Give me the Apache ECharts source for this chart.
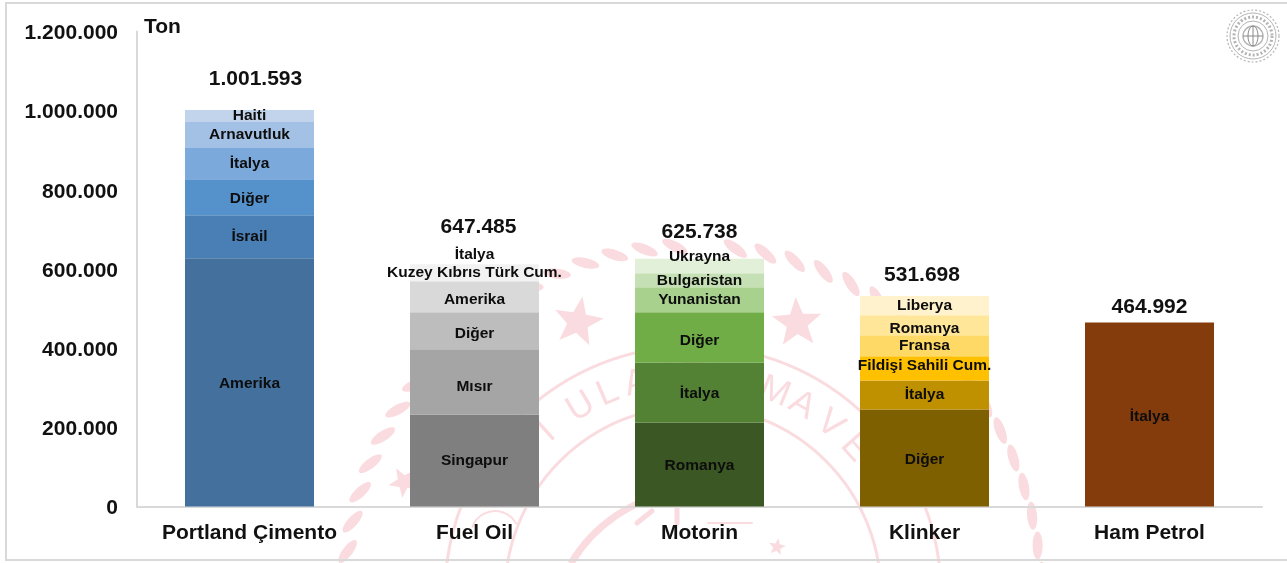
<!DOCTYPE html>
<html>
<head>
<meta charset="utf-8">
<style>html,body{margin:0;background:#fff}#main{width:1287px;height:563px}</style>
<script src="https://cdn.jsdelivr.net/npm/echarts@6/dist/echarts.min.js"></script>
</head>
<body>
<div id="main"></div>
<script>
var categories = ['Portland Çimento', 'Fuel Oil', 'Motorin', 'Klinker', 'Ham Petrol'];
var yTicks = [0, 200000, 400000, 600000, 800000, 1000000, 1200000];
var totals = [1001593, 647485, 625738, 531698, 464992];

// bottom to top of each bar
var portlandNames = ['Amerika', 'İsrail', 'Diğer', 'İtalya', 'Arnavutluk', 'Haiti'];
var portlandValues = [627000, 109000, 91000, 78500, 66000, 30093];
var fuelNames = ['Singapur', 'Mısır', 'Diğer', 'Amerika', 'Kuzey Kıbrıs Türk Cum.', 'İtalya'];
var fuelValues = [232700, 164400, 93600, 78400, 43000, 35385];
var motorinNames = ['Romanya', 'İtalya', 'Diğer', 'Yunanistan', 'Bulgaristan', 'Ukrayna'];
var motorinValues = [212400, 151700, 126500, 63200, 35400, 36538];
var klinkerNames = ['Diğer', 'İtalya', 'Fildişi Sahili Cum.', 'Fransa', 'Romanya', 'Liberya'];
var klinkerValues = [245300, 73300, 60700, 53100, 50600, 48698];
var hamNames = ['İtalya'];
var hamValues = [464992];

var allNames = [portlandNames, fuelNames, motorinNames, klinkerNames, hamNames];
var allValues = [portlandValues, fuelValues, motorinValues, klinkerValues, hamValues];
var allColors = [
    ['#43709D', '#4A7FB5', '#5592CC', '#7CA9DB', '#A3C0E5', '#C2D4EB'],
    ['#7F7F7F', '#A5A5A5', '#BDBDBD', '#D9D9D9', '#F2F2F2', 'rgba(255,255,255,0)'],
    ['#3B5723', '#548235', '#70AD47', '#A9D18E', '#C5E0B4', '#E2F0D9'],
    ['#7F6000', '#BF9000', '#FFC000', '#FFD966', '#FFE699', '#FFF2CC'],
    ['#843C0C']
];
// the labels were moved by hand in the original
var labelShiftY = [
    [1, 0, 2, 0, 0, 0],
    [0, 5, 3, 3, 0, -2],
    [1, 1, 3, 0, 0, -9],
    [2, 0, -3, 0, 3, 0],
    [2]
];
var totalOffsets = [[6, -15], [4, -7], [0, -11], [-2.5, -5], [0, 1]];

function dotted(v) {
    return String(v).replace(/\B(?=(\d{3})+$)/g, '.');
}

var font = '"Liberation Sans", Arial, sans-serif';
var barSeries = [];
for (let layer = 0; layer < 6; layer++) {
    barSeries.push({
        type: 'bar',
        stack: 'total',
        barWidth: 129,
        data: categories.map(function (c, i) {
            if (allValues[i][layer] === undefined) return '-';
            return {
                value: allValues[i][layer],
                name: allNames[i][layer],
                itemStyle: { color: allColors[i][layer] },
                label: { offset: [0, labelShiftY[i][layer]] }
            };
        }),
        label: {
            show: true,
            position: 'inside',
            formatter: function (p) { return p.data.name; },
            color: '#0d0d0d',
            fontFamily: font,
            fontWeight: 'bold',
            fontSize: 15.5
        }
    });
}

var totalSeries = {
    type: 'line',
    symbol: 'circle',
    symbolSize: 1,
    showSymbol: true,
    silent: true,
    itemStyle: { color: 'rgba(0,0,0,0)' },
    lineStyle: { width: 0, opacity: 0 },
    z: 5,
    data: totals.map(function (t, i) {
        return { value: t, label: { offset: totalOffsets[i] } };
    }),
    label: {
        show: true,
        position: 'top',
        formatter: function (p) { return dotted(p.value); },
        color: '#111',
        fontFamily: font,
        fontWeight: 'bold',
        fontSize: 21
    }
};

// watermark behind the chart
var pink = '#FADCE0';
var cx = 693, cy = 594;
var mark = [];
function polar(deg, r) {
    var a = deg * Math.PI / 180;
    return [cx + r * Math.sin(a), cy - r * Math.cos(a)];
}
function star(x, y, r, rot) {
    var pts = [];
    for (var i = 0; i < 10; i++) {
        var rr = i % 2 ? r * 0.42 : r;
        var a = (rot + i * 36) * Math.PI / 180;
        pts.push([x + rr * Math.sin(a), y - rr * Math.cos(a)]);
    }
    return { type: 'polygon', z: 0, silent: true, shape: { points: pts }, style: { fill: pink } };
}
function stroke(x1, y1, x2, y2, w) {
    return { type: 'line', z: 0, silent: true, shape: { x1: x1, y1: y1, x2: x2, y2: y2 }, style: { stroke: pink, lineWidth: w, lineCap: 'round' } };
}
for (var d = -88; d <= 88; d += 5) {
    if (Math.abs(d) < 3) continue;
    var p = polar(d, 348);
    var tilt = d > 40 ? 8 : 30;
    mark.push({
        type: 'ellipse', z: 0, silent: true, x: p[0], y: p[1],
        rotation: -(d + tilt) * Math.PI / 180,
        shape: { cx: 0, cy: 0, rx: 14, ry: 5 },
        style: { fill: pink }
    });
}
[248, 188].forEach(function (r) {
    mark.push({
        type: 'circle', z: 0, silent: true,
        shape: { cx: cx, cy: cy, r: r },
        style: { fill: 'none', stroke: pink, lineWidth: 3 }
    });
});
[['T', -50], ['İ', -42], ['U', -31], ['L', -23], ['A', -15], ['Ş', -7], ['T', 0], ['I', 6], ['R', 12], ['M', 22], ['A', 30], ['V', 39], ['E', 48]].forEach(function (l) {
    var p = polar(l[1], 218);
    mark.push({
        type: 'text', z: 0, silent: true, x: p[0], y: p[1],
        rotation: -l[1] * Math.PI / 180,
        style: { text: l[0], fill: pink, font: '36px "Liberation Sans", Arial, sans-serif', align: 'center', verticalAlign: 'middle' }
    });
});
mark.push(star(578, 322, 26, 10), star(797, 323, 26, -3), star(404, 482, 16, -30), star(777, 547, 9, 10));
mark.push({
    type: 'arc', z: 0, silent: true,
    shape: { cx: 700, cy: 640, r: 150, startAngle: Math.PI * 1.17, endAngle: Math.PI * 1.45 },
    style: { fill: 'none', stroke: pink, lineWidth: 7 }
});
mark.push(stroke(637, 523, 652, 511, 5), stroke(677, 508, 677, 523, 5), stroke(708, 523, 752, 523, 2));
mark.push({
    type: 'arc', z: 0, silent: true,
    shape: { cx: 495, cy: 535, r: 24, startAngle: Math.PI * 1.1, endAngle: Math.PI * 1.85 },
    style: { fill: 'none', stroke: pink, lineWidth: 2 }
});

// seal in the top right corner
var seal = { cx: 1253, cy: 36 };
var sealStroke = '#b4b4b4';
function sealCircle(r, w, dash) {
    return {
        type: 'circle', silent: true, z: 6,
        shape: { cx: seal.cx, cy: seal.cy, r: r },
        style: { fill: 'none', stroke: sealStroke, lineWidth: w, lineDash: dash }
    };
}
var sealParts = [
    sealCircle(26, 1.2, [2, 2]),
    sealCircle(23, 1),
    sealCircle(19, 3, [2, 2]),
    sealCircle(15, 1),
    sealCircle(10, 1.4),
    { type: 'ellipse', silent: true, z: 6, shape: { cx: seal.cx, cy: seal.cy, rx: 5, ry: 10 }, style: { fill: 'none', stroke: '#8a8a8a', lineWidth: 1 } },
    { type: 'line', silent: true, z: 6, shape: { x1: seal.cx - 10, y1: seal.cy, x2: seal.cx + 10, y2: seal.cy }, style: { stroke: '#8a8a8a', lineWidth: 1 } },
    { type: 'line', silent: true, z: 6, shape: { x1: seal.cx, y1: seal.cy - 10, x2: seal.cx, y2: seal.cy + 10 }, style: { stroke: '#8a8a8a', lineWidth: 1 } }
];

var frame = {
    type: 'rect', silent: true, z: 1,
    shape: { x: 6, y: 3, width: 1320, height: 557 },
    style: { fill: 'none', stroke: '#D9D9D9', lineWidth: 2 }
};

var myChart = echarts.init(document.getElementById('main'), null, { renderer: 'canvas' });
myChart.setOption({
    animation: false,
    backgroundColor: '#fff',
    title: {
        text: 'Ton',
        left: 144,
        top: 17,
        padding: 0,
        textStyle: { fontFamily: font, fontWeight: 'bold', fontSize: 21, color: '#111' }
    },
    grid: { left: 137, top: 31.5, width: 1125, height: 475 },
    xAxis: {
        type: 'category',
        data: categories,
        axisTick: { show: false },
        axisLine: { lineStyle: { color: '#D9D9D9', width: 2 } },
        axisLabel: { interval: 0, margin: 16, color: '#111', fontFamily: font, fontWeight: 'bold', fontSize: 21 }
    },
    yAxis: {
        type: 'value',
        min: yTicks[0],
        max: yTicks[yTicks.length - 1],
        interval: yTicks[1] - yTicks[0],
        splitLine: { show: false },
        axisTick: { show: false },
        axisLine: { show: true, lineStyle: { color: '#D9D9D9', width: 2 } },
        axisLabel: {
            margin: 19,
            formatter: function (v) { return '{t|' + dotted(v) + '}'; },
            rich: { t: { padding: [4, 0, 0, 0], color: '#111', fontFamily: font, fontWeight: 'bold', fontSize: 21 } }
        }
    },
    graphic: mark.concat([frame], sealParts),
    series: barSeries.concat([totalSeries])
});
</script>
</body>
</html>
